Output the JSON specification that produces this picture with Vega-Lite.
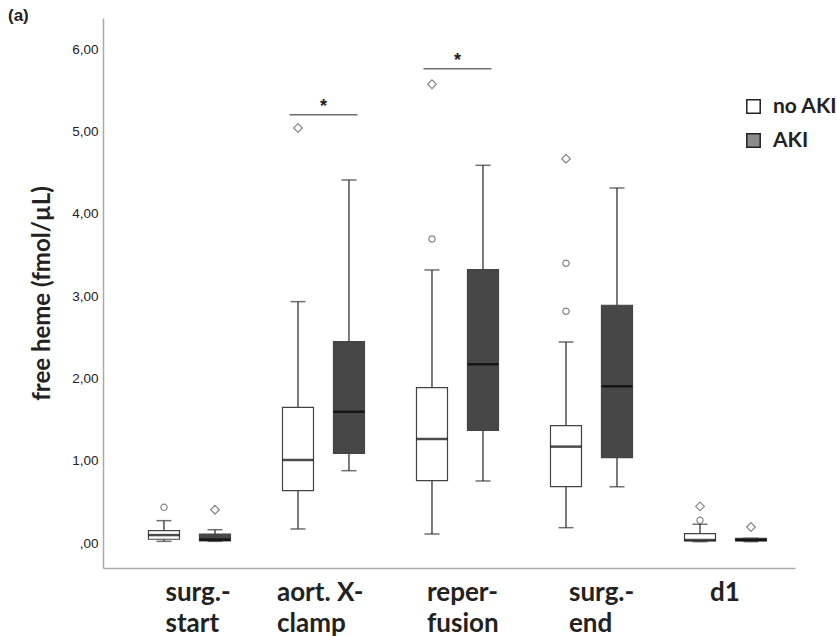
{
  "$schema": "https://vega.github.io/schema/vega-lite/v6.json",
  "width": 692,
  "height": 550,
  "autosize": {"type": "none"},
  "padding": {"left": 103, "top": 18, "right": 42, "bottom": 68},
  "background": "white",
  "title": {"text": "(a)", "anchor": "start", "frame": "group", "dx": -95, "dy": 17, "offset": 10, "baseline": "top", "font": "Liberation Sans", "fontSize": 17, "fontWeight": "bold", "color": "#222222"},
  "config": {"view": {"stroke": null}},
  "datasets": {
    "boxes": [
      {"time": "surg.-|start", "group": "no AKI", "min": 0.024, "q1": 0.049, "median": 0.10, "q3": 0.153, "max": 0.275},
      {"time": "surg.-|start", "group": "AKI", "min": 0.024, "q1": 0.028, "median": 0.045, "q3": 0.113, "max": 0.165},
      {"time": "aort. X-|clamp", "group": "no AKI", "min": 0.174, "q1": 0.639, "median": 1.012, "q3": 1.652, "max": 2.935},
      {"time": "aort. X-|clamp", "group": "AKI", "min": 0.882, "q1": 1.093, "median": 1.598, "q3": 2.449, "max": 4.413},
      {"time": "reper-|fusion", "group": "no AKI", "min": 0.113, "q1": 0.760, "median": 1.267, "q3": 1.890, "max": 3.320},
      {"time": "reper-|fusion", "group": "AKI", "min": 0.757, "q1": 1.372, "median": 2.174, "q3": 3.323, "max": 4.591},
      {"time": "surg.-|end", "group": "no AKI", "min": 0.190, "q1": 0.688, "median": 1.174, "q3": 1.429, "max": 2.445},
      {"time": "surg.-|end", "group": "AKI", "min": 0.688, "q1": 1.040, "median": 1.907, "q3": 2.891, "max": 4.316},
      {"time": "d1", "group": "no AKI", "min": 0.02, "q1": 0.028, "median": 0.04, "q3": 0.117, "max": 0.231},
      {"time": "d1", "group": "AKI", "min": 0.02, "q1": 0.028, "median": 0.04, "q3": 0.061, "max": 0.061}
    ],
    "outliers": [
      {"time": "surg.-|start", "group": "no AKI", "value": 0.437, "kind": "circle"},
      {"time": "surg.-|start", "group": "AKI", "value": 0.408, "kind": "diamond"},
      {"time": "aort. X-|clamp", "group": "no AKI", "value": 5.044, "kind": "diamond"},
      {"time": "reper-|fusion", "group": "no AKI", "value": 3.696, "kind": "circle"},
      {"time": "reper-|fusion", "group": "no AKI", "value": 5.575, "kind": "diamond"},
      {"time": "surg.-|end", "group": "no AKI", "value": 2.818, "kind": "circle"},
      {"time": "surg.-|end", "group": "no AKI", "value": 3.401, "kind": "circle"},
      {"time": "surg.-|end", "group": "no AKI", "value": 4.671, "kind": "diamond"},
      {"time": "d1", "group": "no AKI", "value": 0.279, "kind": "circle"},
      {"time": "d1", "group": "no AKI", "value": 0.449, "kind": "diamond"},
      {"time": "d1", "group": "AKI", "value": 0.198, "kind": "diamond"}
    ],
    "sig": [
      {"time": "aort. X-|clamp", "value": 5.206, "label": "*"},
      {"time": "reper-|fusion", "value": 5.765, "label": "*"}
    ]
  },
  "resolve": {"scale": {"fill": "independent"}, "legend": {"fill": "independent"}},
  "encoding": {
    "x": {
      "field": "time",
      "type": "nominal",
      "sort": ["surg.-|start", "aort. X-|clamp", "reper-|fusion", "surg.-|end", "d1"],
      "scale": {"paddingInner": 0, "paddingOuter": 0.082, "align": 0.886},
      "axis": {
        "title": null,
        "labelExpr": "split(datum.label, '|')",
        "labelAngle": 0,
        "labelAlign": "left",
        "labelBaseline": "alphabetic",
        "labelPadding": 32,
        "labelLineHeight": 31,
        "labelFont": "Lato",
        "labelFontSize": 26,
        "labelFontWeight": "bold",
        "labelColor": "#222222",
        "labelOffset": {"condition": [
          {"test": "datum.value === 'surg.-|start'", "value": -24},
          {"test": "datum.value === 'aort. X-|clamp'", "value": -46.5},
          {"test": "datum.value === 'reper-|fusion'", "value": -30.5},
          {"test": "datum.value === 'surg.-|end'", "value": -22.5}
        ], "value": -15.5},
        "ticks": false,
        "tickSize": 0,
        "domainColor": "#aaaaaa",
        "domainWidth": 1.5,
        "grid": false
      }
    }
  },
  "layer": [
    {
      "data": {"name": "boxes"},
      "mark": {"type": "rule", "color": "#333333", "strokeWidth": 1.3},
      "encoding": {
        "xOffset": {"field": "group", "type": "nominal", "sort": ["no AKI", "AKI"], "scale": {"paddingInner": 0.392, "paddingOuter": 0.51}},
        "y": {
          "field": "min",
          "type": "quantitative",
          "scale": {"domain": [-0.30, 6.38], "nice": false, "zero": false},
          "axis": {
            "title": "free heme (fmol/µL)",
            "titleFont": "Lato",
            "titleFontSize": 24,
            "titleFontWeight": "bold",
            "titleColor": "#222222",
            "titleAngle": -90,
            "titleX": -61,
            "titleY": 275,
            "titleAlign": "center",
            "titleBaseline": "middle",
            "values": [0, 1, 2, 3, 4, 5, 6],
            "labelExpr": "datum.value === 0 ? ',00' : replace(format(datum.value, '.2f'), '.', ',')",
            "labelFont": "Liberation Sans",
            "labelFontSize": 13.5,
            "labelColor": "#222222",
            "labelPadding": 5,
            "ticks": false,
            "tickSize": 0,
            "grid": false,
            "domainColor": "#aaaaaa",
            "domainWidth": 1.5
          }
        },
        "y2": {"field": "max"}
      }
    },
    {
      "data": {"name": "boxes"},
      "mark": {"type": "tick", "color": "#333333", "thickness": 1.5, "size": 15},
      "encoding": {
        "xOffset": {"field": "group", "type": "nominal", "sort": ["no AKI", "AKI"]},
        "y": {"field": "min", "type": "quantitative"}
      }
    },
    {
      "data": {"name": "boxes"},
      "mark": {"type": "tick", "color": "#333333", "thickness": 1.5, "size": 15},
      "encoding": {
        "xOffset": {"field": "group", "type": "nominal", "sort": ["no AKI", "AKI"]},
        "y": {"field": "max", "type": "quantitative"}
      }
    },
    {
      "data": {"name": "boxes"},
      "mark": {"type": "bar", "stroke": "#444444", "strokeWidth": 1.2},
      "encoding": {
        "xOffset": {"field": "group", "type": "nominal", "sort": ["no AKI", "AKI"]},
        "y": {"field": "q1", "type": "quantitative"},
        "y2": {"field": "q3"},
        "fill": {
          "field": "group",
          "type": "nominal",
          "scale": {"domain": ["no AKI", "AKI"], "range": ["#ffffff", "#474747"]},
          "legend": null
        }
      }
    },
    {
      "data": {"name": "boxes"},
      "transform": [{"filter": "false"}],
      "mark": {"type": "bar", "stroke": "#222222", "strokeWidth": 1.5},
      "encoding": {
        "xOffset": {"field": "group", "type": "nominal", "sort": ["no AKI", "AKI"]},
        "y": {"field": "q1", "type": "quantitative"},
        "y2": {"field": "q3"},
        "fill": {
          "field": "group",
          "type": "nominal",
          "scale": {"domain": ["no AKI", "AKI"], "range": ["#ffffff", "#8c8c8c"]},
          "legend": {
            "title": null,
            "orient": "none",
            "legendX": 640,
            "legendY": 78,
            "padding": 0,
            "symbolType": "square",
            "symbolSize": 180,
            "symbolStrokeColor": "#222222",
            "symbolStrokeWidth": 1.5,
            "labelFont": "Lato",
            "labelFontSize": 21,
            "labelFontWeight": "bold",
            "labelColor": "#222222",
            "labelOffset": 9,
            "rowPadding": 12,
            "encode": {"symbols": {
              "enter": {"stroke": {"value": "#222222"}, "strokeWidth": {"value": 1.5}},
              "update": {"stroke": {"value": "#222222"}, "strokeWidth": {"value": 1.5}, "opacity": {"value": 1}}
            }}
          }
        }
      }
    },
    {
      "data": {"name": "boxes"},
      "mark": {"type": "tick", "color": "#000000", "thickness": 2.5, "size": 31},
      "encoding": {
        "xOffset": {"field": "group", "type": "nominal", "sort": ["no AKI", "AKI"]},
        "y": {"field": "median", "type": "quantitative"}
      }
    },
    {
      "data": {"name": "outliers"},
      "transform": [{"filter": "datum.kind === 'circle'"}],
      "mark": {"type": "point", "shape": "circle", "filled": false, "stroke": "#555555", "strokeWidth": 1.2, "size": 40},
      "encoding": {
        "xOffset": {"field": "group", "type": "nominal", "sort": ["no AKI", "AKI"]},
        "y": {"field": "value", "type": "quantitative"}
      }
    },
    {
      "data": {"name": "outliers"},
      "transform": [{"filter": "datum.kind === 'diamond'"}],
      "mark": {"type": "point", "shape": "diamond", "filled": false, "stroke": "#555555", "strokeWidth": 1.2, "size": 75},
      "encoding": {
        "xOffset": {"field": "group", "type": "nominal", "sort": ["no AKI", "AKI"]},
        "y": {"field": "value", "type": "quantitative"}
      }
    },
    {
      "data": {"name": "sig"},
      "mark": {"type": "tick", "color": "#333333", "thickness": 1.5, "size": 68},
      "encoding": {
        "y": {"field": "value", "type": "quantitative"}
      }
    },
    {
      "data": {"name": "sig"},
      "mark": {"type": "text", "font": "Liberation Sans", "fontSize": 18, "fontWeight": "bold", "color": "#222222", "baseline": "alphabetic", "dy": -3},
      "encoding": {
        "y": {"field": "value", "type": "quantitative"},
        "text": {"field": "label"}
      }
    }
  ]
}
